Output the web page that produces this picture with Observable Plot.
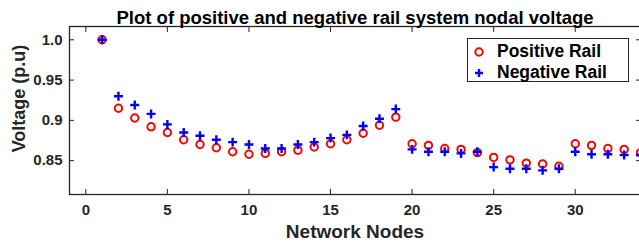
<!DOCTYPE html>
<html>
<head>
<meta charset="utf-8">
<script src="https://cdn.jsdelivr.net/npm/d3@7"></script>
<script src="https://cdn.jsdelivr.net/npm/@observablehq/plot@0.6"></script>
<style>
  html, body { margin: 0; padding: 0; background: #fff; }
  #wrap { position: relative; width: 639px; height: 250px; font-family: "Liberation Sans", Arial, sans-serif; }
  #legend { position: absolute; left: 467px; top: 38px; width: 162px; height: 44px; border: 1px solid #262626; background: #fff; box-sizing: border-box; }
  .row { position: absolute; left: 0; height: 21px; display: flex; align-items: center; font-weight: bold; font-size: 17.5px; color: #000; white-space: nowrap; }
  .row svg { margin-left: 4px; margin-right: 11px; }
</style>
</head>
<body>
<div id="wrap"></div>
<script>
const nodes = [1,2,3,4,5,6,7,8,9,10,11,12,13,14,15,16,17,18,19,20,21,22,23,24,25,26,27,28,29,30,31,32,33,34];
const positiveRail = [1.000,0.915,0.903,0.892,0.885,0.876,0.870,0.866,0.861,0.858,0.859,0.861,0.863,0.867,0.871,0.876,0.884,0.894,0.904,0.871,0.869,0.865,0.864,0.860,0.854,0.851,0.847,0.846,0.843,0.871,0.869,0.865,0.864,0.860];
const negativeRail = [1.000,0.930,0.919,0.908,0.895,0.885,0.881,0.876,0.873,0.870,0.865,0.865,0.870,0.873,0.878,0.882,0.893,0.902,0.914,0.864,0.861,0.861,0.859,0.861,0.842,0.840,0.840,0.838,0.840,0.861,0.858,0.858,0.857,0.857];
const xTicks = [0,5,10,15,20,25,30];
const yTicks = [0.85,0.9,0.95,1.0];
const yTickLabels = ["0.85","0.9","0.95","1.0"];
const seriesNames = ["Positive Rail","Negative Rail"];
const titleText = "Plot of positive and negative rail system nodal voltage";
const xLabel = "Network Nodes";
const yLabel = "Voltage (p.u)";

const data = nodes.map((n, i) => ({node: n, pos: positiveRail[i], neg: negativeRail[i]}));
const axisColor = "#262626";
const yFmt = d => yTickLabels[yTicks.indexOf(d)];

const chart = Plot.plot({
  width: 639,
  height: 250,
  marginTop: 26,
  marginBottom: 56,
  marginLeft: 69,
  marginRight: -1,
  style: {fontFamily: "'Liberation Sans', Arial, sans-serif", background: "#fff", overflow: "hidden"},
  x: {domain: [-1, 34]},
  y: {domain: [0.808, 1.0165]},
  marks: [
    Plot.frame({stroke: axisColor, strokeWidth: 1.3}),
    Plot.axisX(xTicks, {anchor: "bottom", tickSize: 0, tickPadding: 10, fontSize: 15, fontWeight: "bold", fill: axisColor, label: null}),
    Plot.axisX(xTicks, {anchor: "bottom", tickSize: -5, tickFormat: () => "", stroke: axisColor, label: null}),
    Plot.axisX(xTicks, {anchor: "top", tickSize: -5, tickFormat: () => "", stroke: axisColor, label: null}),
    Plot.axisY(yTicks, {anchor: "left", tickSize: 0, tickPadding: 7, fontSize: 15, fontWeight: "bold", fill: axisColor, tickFormat: yFmt, label: null}),
    Plot.axisY(yTicks, {anchor: "left", tickSize: -5, tickFormat: () => "", stroke: axisColor, label: null}),
    Plot.axisY(yTicks, {anchor: "right", tickSize: -5, tickFormat: () => "", stroke: axisColor, label: null}),
    Plot.dot(data, {x: "node", y: "pos", r: 3.7, stroke: "#ff0000", strokeWidth: 2, fill: "none"}),
    Plot.dot(data, {x: "node", y: "neg", symbol: "plus", r: 3.0, stroke: "#0000ff", strokeWidth: 2.4}),
    Plot.text([titleText], {frameAnchor: "top", dy: -16, fontSize: 18.5, fontWeight: "bold", fill: "#000", textAnchor: "middle", text: d => d}),
    Plot.text([xLabel], {frameAnchor: "bottom", dy: 43, fontSize: 19, fontWeight: "bold", fill: axisColor, textAnchor: "middle", text: d => d}),
    Plot.text([yLabel], {frameAnchor: "left", dx: -50, dy: -12, rotate: -90, fontSize: 18, fontWeight: "bold", fill: axisColor, textAnchor: "middle", text: d => d})
  ]
});
const wrap = document.getElementById("wrap");
wrap.appendChild(chart);

const legend = document.createElement("div");
legend.id = "legend";
legend.innerHTML = `
  <div class="row" style="top:2px"><svg width="14" height="14"><circle cx="7" cy="7" r="3.7" fill="none" stroke="#ff0000" stroke-width="2"/></svg><span>${seriesNames[0]}</span></div>
  <div class="row" style="top:23px"><svg width="14" height="14"><path d="M7,3V11M3,7H11" stroke="#0000ff" stroke-width="2.4"/></svg><span>${seriesNames[1]}</span></div>`;
wrap.appendChild(legend);
</script>
</body>
</html>
